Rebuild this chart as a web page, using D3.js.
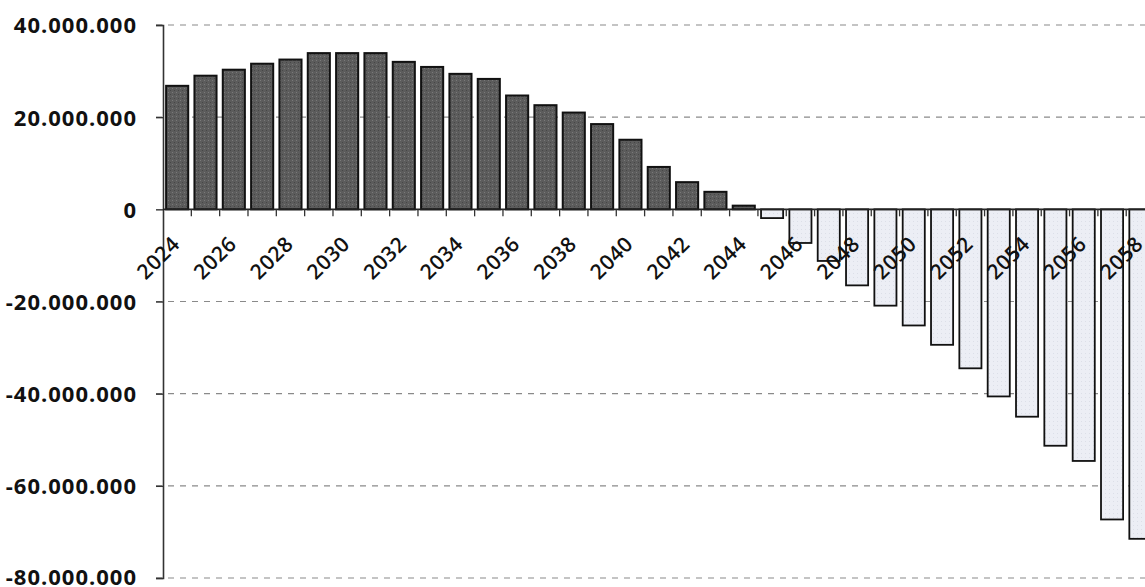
<!DOCTYPE html>
<html>
<head>
	<meta charset="utf-8" />
	<title>Saldo</title>
	<script type="text/javascript" src="https://cdn.jsdelivr.net/npm/d3@7/dist/d3.min.js" charset="utf-8"></script>
	<style>
		html, body { margin: 0; padding: 0; background: #fff; }
		svg { display: block; }
		.ylab text { font-family: "Open Sans", sans-serif; font-weight: 700; font-size: 22px; letter-spacing: 1px; fill: #111; }
		.xlab text { font-family: "Open Sans", sans-serif; font-weight: 600; font-size: 21px; letter-spacing: 0.5px; fill: #111; }
	</style>
</head>
<body>

<div id="chart"><svg></svg></div>

<script type="text/javascript">
/* data, one value per year */
var years = [2024, 2025, 2026, 2027, 2028, 2029, 2030, 2031, 2032, 2033,
             2034, 2035, 2036, 2037, 2038, 2039, 2040, 2041, 2042, 2043,
             2044, 2045, 2046, 2047, 2048, 2049, 2050, 2051, 2052, 2053,
             2054, 2055, 2056, 2057, 2058];

var saldo = [26800000, 29000000, 30300000, 31600000, 32500000, 33900000, 33900000, 33900000, 32000000, 30900000,
             29400000, 28300000, 24700000, 22600000, 21000000, 18500000, 15100000, 9200000, 5900000, 3800000,
             800000, -1900000, -7300000, -11200000, -16500000, -20900000, -25200000, -29400000, -34500000, -40600000,
             -45000000, -51300000, -54600000, -67300000, -71500000];

var yTicks = [-80000000, -60000000, -40000000, -20000000, 0, 20000000, 40000000];
var xLabels = [2024, 2026, 2028, 2030, 2032, 2034, 2036, 2038, 2040, 2042, 2044, 2046, 2048, 2050, 2052, 2054, 2056, 2058];

(function drawChart() {
	var W = 1145,
	    H = 587;

	var left   = 163,
	    top    = 25,
	    bottom = 578,
	    step   = 28.33;

	var svg = d3.select('#chart > svg')
		.attr("width", W)
		.attr("height", H);

	// stipple textures, like the scanned print
	var defs = svg.append("defs");
	var pDark = defs.append("pattern")
		.attr("id", "dark").attr("width", 4).attr("height", 4)
		.attr("patternUnits", "userSpaceOnUse");
	pDark.append("rect").attr("width", 4).attr("height", 4).attr("fill", "#5c5c5c");
	pDark.append("rect").attr("x", 0).attr("y", 0).attr("width", 1).attr("height", 1).attr("fill", "#7a7a7a");
	pDark.append("rect").attr("x", 2).attr("y", 2).attr("width", 1).attr("height", 1).attr("fill", "#464646");

	var pLight = defs.append("pattern")
		.attr("id", "light").attr("width", 4).attr("height", 4)
		.attr("patternUnits", "userSpaceOnUse");
	pLight.append("rect").attr("width", 4).attr("height", 4).attr("fill", "#eceef5");
	pLight.append("rect").attr("x", 1).attr("y", 1).attr("width", 1).attr("height", 1).attr("fill", "#dcdfe8");

	var x = d3.scaleBand()
		.domain(years)
		.range([left, left + years.length * step])
		.paddingInner(0.22)
		.paddingOuter(0.11);

	var y = d3.scaleLinear()
		.domain([-80000000, 40000000])
		.range([bottom, top]);

	var loc = d3.formatLocale({ decimal: ",", thousands: ".", grouping: [3], currency: ["", "€"], minus: "-" });
	var fmt = loc.format(",d");

	/* gridlines */
	svg.append("g").selectAll("line")
		.data(yTicks.filter(function(d) { return d !== 0; }))
		.enter().append("line")
			.attr("x1", left - 7)
			.attr("x2", W)
			.attr("y1", function(d) { return y(d); })
			.attr("y2", function(d) { return y(d); })
			.attr("stroke", "#8a8a8a")
			.attr("stroke-width", 1.2)
			.attr("stroke-dasharray", "6,6");

	/* y axis */
	var yAxis = svg.append("g")
		.attr("class", "ylab")
		.attr("transform", "translate(" + left + ",0)")
		.call(d3.axisLeft(y).tickValues(yTicks).tickFormat(fmt).tickSize(7).tickPadding(19));
	yAxis.select(".domain").attr("stroke", "#333").attr("stroke-width", 1.6);
	yAxis.selectAll(".tick line").attr("stroke", "#333").attr("stroke-width", 1.4);
	yAxis.selectAll(".tick text").attr("dy", function(d) { return d === -80000000 ? "0.28em" : "0.36em"; });

	/* bars */
	svg.append("g").selectAll("rect")
		.data(years)
		.enter().append("rect")
			.attr("x", function(d) { return x(d); })
			.attr("width", x.bandwidth())
			.attr("y", function(d, i) { return y(Math.max(0, saldo[i])); })
			.attr("height", function(d, i) { return Math.abs(y(saldo[i]) - y(0)); })
			.attr("fill", function(d, i) { return saldo[i] >= 0 ? "url(#dark)" : "url(#light)"; })
			.attr("stroke", "#111")
			.attr("stroke-width", function(d, i) { return saldo[i] >= 0 ? 2 : 1.8; });

	/* zero line with category ticks between the bars */
	svg.append("line")
		.attr("x1", left).attr("x2", W)
		.attr("y1", y(0)).attr("y2", y(0))
		.attr("stroke", "#222").attr("stroke-width", 1.8);

	svg.append("g").selectAll("line")
		.data(years)
		.enter().append("line")
			.attr("x1", function(d) { return x(d) - x.step() * x.paddingOuter() + x.step(); })
			.attr("x2", function(d) { return x(d) - x.step() * x.paddingOuter() + x.step(); })
			.attr("y1", y(0))
			.attr("y2", y(0) + 7)
			.attr("stroke", "#333")
			.attr("stroke-width", 1.3);

	/* rotated year labels */
	svg.append("g")
		.attr("class", "xlab")
		.selectAll("text")
		.data(xLabels)
		.enter().append("text")
			.attr("text-anchor", "end")
			.attr("transform", function(d) {
				return "translate(" + (x(d) + x.bandwidth() / 2 + 4) + "," + (y(0) + 36) + ") rotate(-45)";
			})
			.text(function(d) { return d; });
})();

</script>
</body>
</html>
